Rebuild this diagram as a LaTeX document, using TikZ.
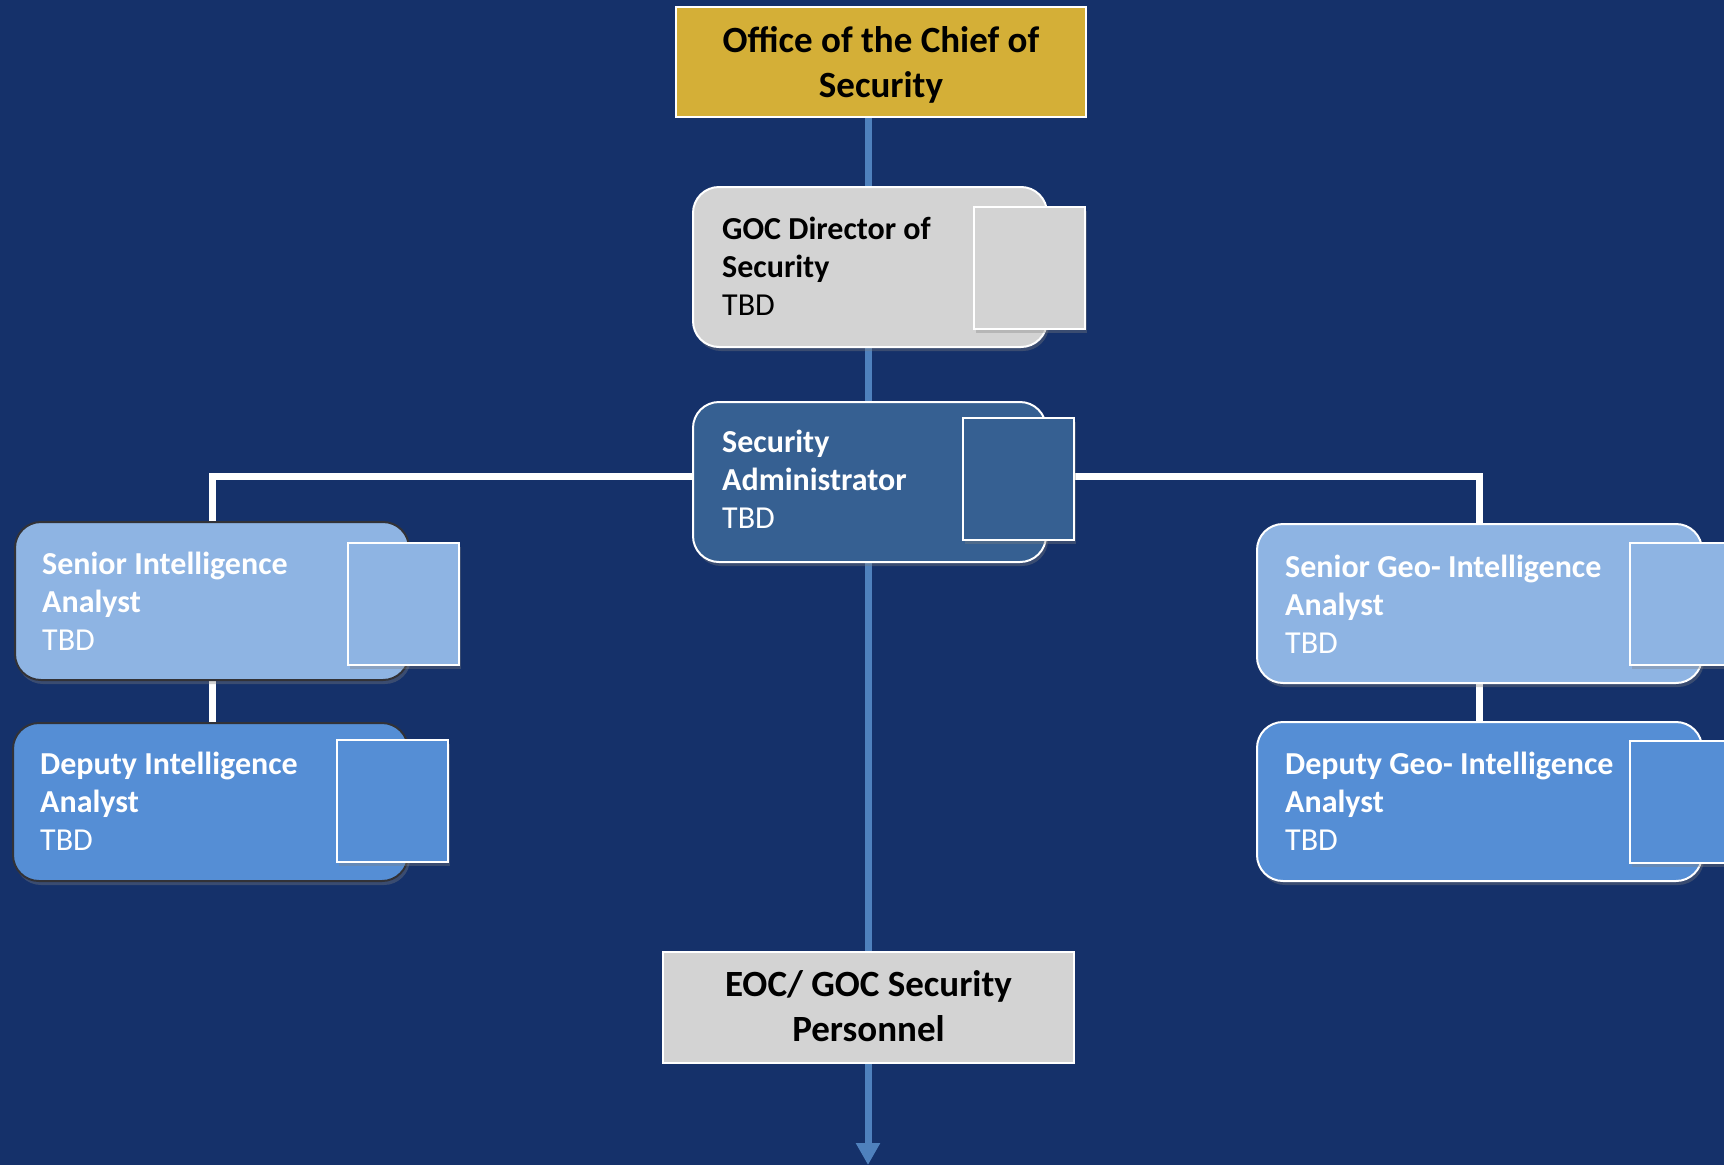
\documentclass[tikz,border=0pt]{standalone}
\usepackage{fontspec}
\setmainfont{Carlito}
\usetikzlibrary{arrows.meta,shadows}
\definecolor{bgblue}{RGB}{21,49,106}
\definecolor{gold}{RGB}{212,175,55}
\definecolor{lgray}{RGB}{211,211,211}
\definecolor{admblue}{RGB}{54,96,146}
\definecolor{paleblue}{RGB}{142,180,227}
\definecolor{midblue}{RGB}{85,142,213}
\definecolor{lineblue}{RGB}{79,129,189}
\definecolor{darkedge}{RGB}{50,50,55}
\pgfdeclarelayer{back}
\pgfdeclarelayer{lines}
\pgfsetlayers{back,lines,main}
\begin{document}
\begin{tikzpicture}[x=1pt,y=-1pt,
  shadowed/.style={drop shadow={opacity=0.35,shadow xshift=2pt,shadow yshift=-4pt}},
  card/.style={rectangle,rounded corners=26pt,inner sep=0pt,line width=2pt,shadowed},
  photo/.style={rectangle,draw=white,line width=2pt,inner sep=0pt,minimum width=111pt,minimum height=122pt,shadowed},
  plainbox/.style={rectangle,draw=white,line width=2pt,inner sep=0pt,text=black,align=center},
  cardtext/.style={anchor=base west,align=left,inner sep=0pt,font=\fontsize{32}{38}\selectfont},
  boxtext/.style={anchor=base,align=center,inner sep=0pt,font=\fontsize{37}{45}\selectfont\bfseries},
  blueline/.style={draw=lineblue,line width=7pt},
  whiteline/.style={draw=white,line width=7pt}
]
\useasboundingbox (0,0) rectangle (1724,1165);
\clip (0,0) rectangle (1724,1165);
\begin{pgfonlayer}{back}
\fill[bgblue] (0,0) rectangle (1724,1165);
\end{pgfonlayer}

% top office
\node[plainbox,fill=gold,minimum width=410pt,minimum height=110pt] (office) at (881,62) {};
\node[boxtext] (officet) at (881,97) {Office of the Chief of\\Security};

% GOC Director
\node[card,fill=lgray,draw=white,minimum width=354pt,minimum height=160pt] (gocdir) at (870,267) {};
\node[photo,fill=lgray] (gocdirp) at (1029.5,267.5) {};
\node[cardtext,text=black] (gocdirt) at (722,315) {\textbf{GOC Director of}\\\textbf{Security}\\TBD};

% Security Administrator
\node[card,fill=admblue,draw=white,minimum width=353pt,minimum height=160pt] (secadm) at (869.5,482) {};
\node[photo,fill=admblue] (secadmp) at (1018,479) {};
\node[cardtext,text=white] (secadmt) at (722,528) {\textbf{Security}\\\textbf{Administrator}\\TBD};

% Senior Intelligence Analyst
\node[card,fill=paleblue,draw=darkedge,minimum width=394pt,minimum height=158pt] (senior) at (212,601) {};
\node[photo,fill=paleblue] (seniorp) at (403.5,604) {};
\node[cardtext,text=white] (seniort) at (42,650) {\textbf{Senior Intelligence}\\\textbf{Analyst}\\TBD};

% Deputy Intelligence Analyst
\node[card,fill=midblue,draw=darkedge,minimum width=395pt,minimum height=158pt] (deputy) at (210.5,802) {};
\node[photo,fill=midblue] (deputyp) at (392.5,801) {};
\node[cardtext,text=white] (deputyt) at (40,850) {\textbf{Deputy Intelligence}\\\textbf{Analyst}\\TBD};

% Senior Geo-Intelligence Analyst
\node[card,fill=paleblue,draw=white,minimum width=445pt,minimum height=159pt] (seniorgeo) at (1479.5,603.5) {};
\node[photo,fill=paleblue] (seniorgeop) at (1685.5,604) {};
\node[cardtext,text=white] (seniorgeot) at (1285,653) {\textbf{Senior Geo- Intelligence}\\\textbf{Analyst}\\TBD};

% Deputy Geo-Intelligence Analyst
\node[card,fill=midblue,draw=white,minimum width=445pt,minimum height=159pt] (deputygeo) at (1479.5,801.5) {};
\node[photo,fill=midblue] (deputygeop) at (1685.5,801.5) {};
\node[cardtext,text=white] (deputygeot) at (1285,850) {\textbf{Deputy Geo- Intelligence}\\\textbf{Analyst}\\TBD};

% EOC / GOC Security Personnel
\node[plainbox,fill=lgray,minimum width=411pt,minimum height=111pt] (eoc) at (868.5,1007.5) {};
\node[boxtext] (eoct) at (868.5,1041) {EOC/ GOC Security\\Personnel};

\coordinate (bottomend) at (868,1165);

\begin{pgfonlayer}{lines}
\draw[blueline] (office.south -| 868,0) -- (eoc.north -| 868,0);
\draw[blueline,-{Triangle[width=23pt,length=22pt]}] (eoc.south -| 868,0) -- (bottomend);
\draw[whiteline] (senior.north) -- ++(0,-45) -| (seniorgeo.north);
\draw[whiteline] (senior.south) -- (senior.south |- deputy.north);
\draw[whiteline] (seniorgeo.south) -- (seniorgeo.south |- deputygeo.north);
\end{pgfonlayer}
\end{tikzpicture}
\end{document}
